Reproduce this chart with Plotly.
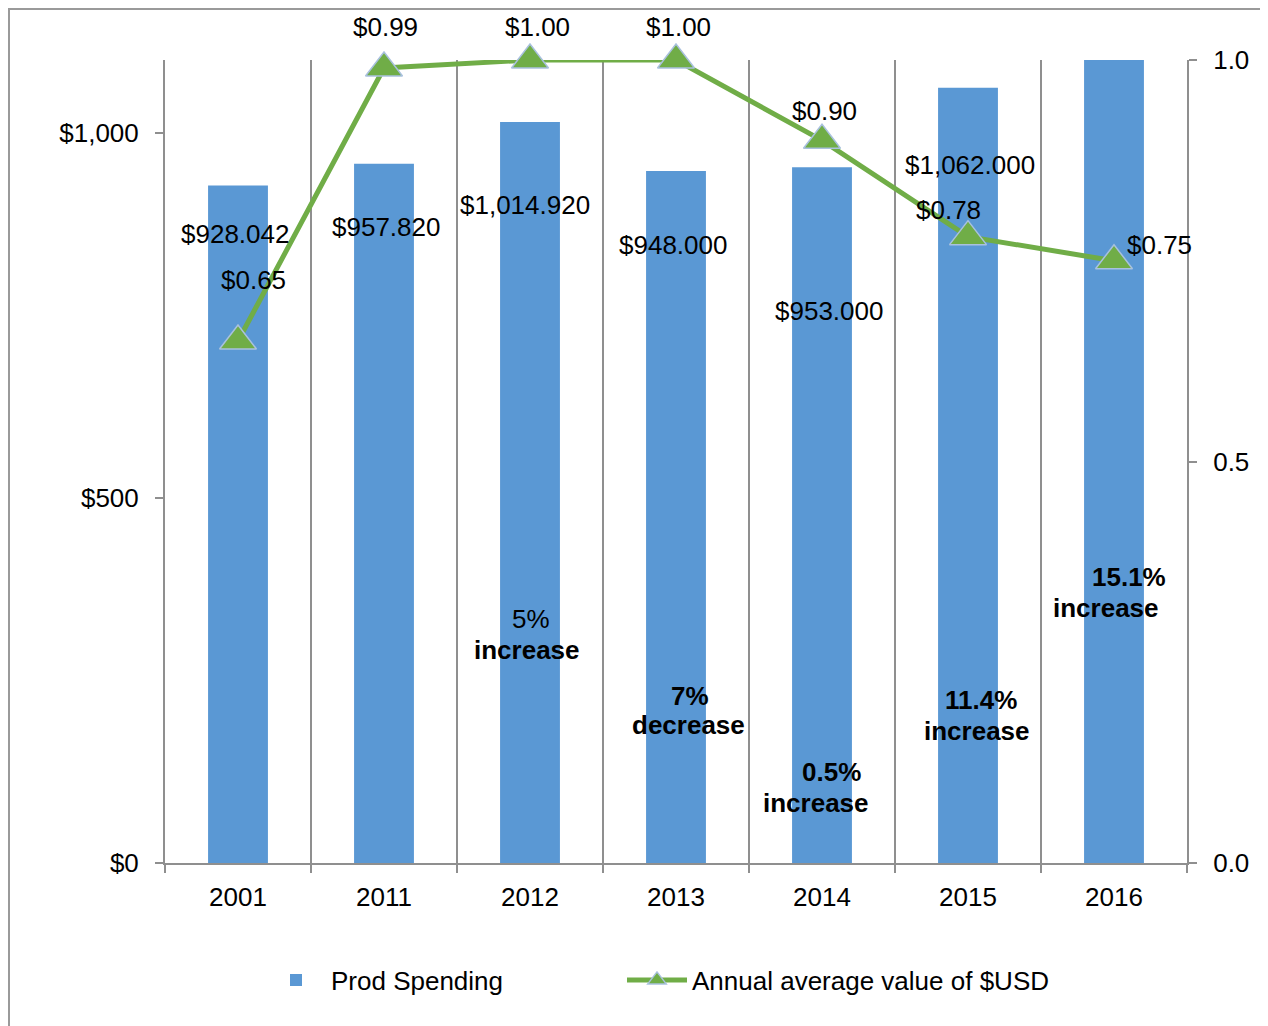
import plotly.graph_objects as go

# ---- data ----
categories = ["2001", "2011", "2012", "2013", "2014", "2015", "2016"]
spending = [928.042, 957.820, 1014.920, 948.000, 953.000, 1062.000, 1223.000]
usd_value = [0.65, 0.99, 1.00, 1.00, 0.90, 0.78, 0.75]
change_pct = ["", "", "5%", "7%", "0.5%", "11.4%", "15.1%"]
change_word = ["", "", "increase", "decrease", "increase", "increase", "increase"]

# ---- label placement (pixels / axis units) ----
bar_lbl_dx = [-3, 2, -5, -3, 7, 2, -6]
bar_lbl_dy = [-48, -63, -83, -74, -144, -77, -124]
line_lbl_dx = [15, 1, 7, 2, 2, -20, 45]
line_lbl_dy = [61, 41, 33, 33, 29, 27, 16]
pct_y = [0, 0, 334, 229, 125, 223, 392]
pct_dx = [0, 0, 1, 14, 9, 13, 15]
word_y = [0, 0, 292, 189, 82, 181, 349]
word_dx = [0, 0, -3, 12, -6, 9, -8]

FONT = "Liberation Sans, Arial, sans-serif"
FS = 26
GRID = "#8f8f8f"
BAR = "#5a98d4"
GREEN = "#70ad47"

fig = go.Figure()
fig.add_trace(go.Bar(
    x=categories, y=spending, name="Prod Spending", legend="legend",
    marker=dict(color=BAR, line=dict(width=0)), width=0.41,
))
fig.add_trace(go.Scatter(
    x=categories, y=usd_value, name="Annual average value of $USD",
    legend="legend2",
    yaxis="y2", mode="lines+markers", cliponaxis=False,
    line=dict(color=GREEN, width=5),
    marker=dict(symbol="triangle-up", size=32, color=GREEN,
                line=dict(color="#a9c1de", width=1.5)),
))

ann = []
for i, c in enumerate(categories):
    ann.append(dict(x=i, y=spending[i], xref="x", yref="y",
                    text=f"${spending[i]:,.3f}", showarrow=False,
                    xshift=bar_lbl_dx[i], yshift=bar_lbl_dy[i],
                    font=dict(size=FS, color="black", family=FONT)))
    ann.append(dict(x=i, y=usd_value[i], xref="x", yref="y2",
                    text=f"${usd_value[i]:.2f}", showarrow=False,
                    xshift=line_lbl_dx[i], yshift=line_lbl_dy[i],
                    font=dict(size=FS, color="black", family=FONT)))
    if change_pct[i]:
        pct_txt = change_pct[i] if i == 2 else f"<b>{change_pct[i]}</b>"
        ann.append(dict(x=i, y=pct_y[i], xref="x", yref="y",
                        text=pct_txt, showarrow=False, xshift=pct_dx[i],
                        font=dict(size=FS, color="black", family=FONT)))
        ann.append(dict(x=i, y=word_y[i], xref="x", yref="y",
                        text=f"<b>{change_word[i]}</b>", showarrow=False,
                        xshift=word_dx[i],
                        font=dict(size=FS, color="black", family=FONT)))

# page has an 8px body margin: figure origin sits at page (8, 8)
OFF = 8
W, H = 1268 - OFF, 1026 - OFF
L, R, T, B = 165 - OFF, 1187 - OFF, 60 - OFF, 863 - OFF
pw, ph = R - L, B - T
shapes = [dict(type="rect", xref="paper", yref="paper",
               x0=(1 - L) / pw, x1=(W + 40 - L) / pw,
               y0=(B - H - 40) / ph, y1=(B - 1) / ph,
               line=dict(color="#9a9a9a", width=2), fillcolor="rgba(0,0,0,0)",
               layer="below")]

leg_y = (B - (980 - OFF)) / ph
fig.update_layout(
    width=W, height=H,
    margin=dict(l=L, r=W - R, t=T, b=H - B),
    paper_bgcolor="white", plot_bgcolor="white",
    font=dict(family=FONT, size=FS, color="black"),
    showlegend=True,
    legend=dict(orientation="h", x=(253 - L) / pw, xanchor="left",
                y=leg_y, yanchor="middle",
                font=dict(size=FS, family=FONT), itemwidth=60),
    legend2=dict(orientation="h", x=(614 - L) / pw, xanchor="left",
                 y=leg_y, yanchor="middle",
                 font=dict(size=FS, family=FONT), itemwidth=60),
    xaxis=dict(type="category", range=[-0.5, 6.5], autorange=False,
               categoryorder="array", categoryarray=categories,
               showgrid=True, gridcolor=GRID, gridwidth=2,
               tickson="boundaries", ticks="outside", ticklen=8,
               tickcolor=GRID, tickwidth=2, showline=True, linecolor=GRID,
               linewidth=2, ticklabelstandoff=10, tickangle=0,
               tickfont=dict(size=FS, family=FONT)),
    yaxis=dict(range=[0, 1100], autorange=False, tickvals=[0, 500, 1000],
               ticktext=["$0", "$500", "$1,000"], showgrid=False,
               zeroline=False, showline=True, linecolor=GRID, linewidth=2,
               ticks="outside", ticklen=8, tickcolor=GRID, tickwidth=2,
               ticklabelstandoff=11, tickfont=dict(size=FS, family=FONT)),
    yaxis2=dict(range=[0, 1], autorange=False, overlaying="y", side="right",
                tickvals=[0, 0.5, 1.0], ticktext=["0.0", "0.5", "1.0"],
                showgrid=False, zeroline=False, showline=True,
                linecolor=GRID, linewidth=2, ticks="outside", ticklen=8,
                tickcolor=GRID, tickwidth=2, ticklabelstandoff=11,
                tickfont=dict(size=FS, family=FONT)),
    annotations=ann, shapes=shapes,
)

fig.write_html("out.html")
